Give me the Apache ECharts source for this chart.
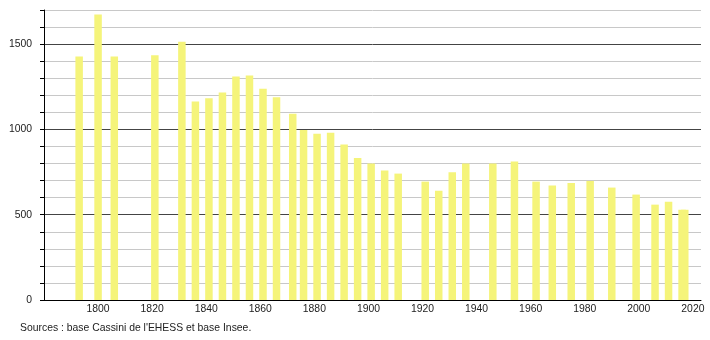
<!DOCTYPE html>
<html>
<head>
<meta charset="utf-8">
<script src="https://cdn.jsdelivr.net/npm/echarts@6/dist/echarts.min.js"></script>
<style>
html,body{margin:0;padding:0;background:#fff;}
#c{width:710px;height:340px;}
</style>
</head>
<body>
<div id="c"></div>
<script>
var years = [1793, 1800, 1806, 1821, 1831, 1836, 1841, 1846, 1851, 1856, 1861, 1866, 1872, 1876, 1881, 1886, 1891, 1896, 1901, 1906, 1911, 1921, 1926, 1931, 1936, 1946, 1954, 1962, 1968, 1975, 1982, 1990, 1999, 2006, 2011, 2016, 2017];
var population = [1428, 1673, 1428, 1435, 1514, 1163, 1182, 1216, 1310, 1316, 1239, 1188, 1092, 996, 975, 980, 912, 833, 800, 759, 741, 694, 641, 749, 800, 800, 812, 694, 671, 686, 698, 659, 618, 559, 576, 529, 529];
var yTickLabels = [0, 500, 1000, 1500];
var xTickLabels = [1800, 1820, 1840, 1860, 1880, 1900, 1920, 1940, 1960, 1980, 2000, 2020];
var sourceText = "Sources : base Cassini de l'EHESS et base Insee.";

var data = years.map(function (y, i) { return [y, population[i]]; });
var chart = echarts.init(document.getElementById('c'), null, {renderer: 'canvas'});
chart.setOption({
  animation: false,
  backgroundColor: '#ffffff',
  textStyle: {fontFamily: 'Liberation Sans, Arial, sans-serif'},
  grid: {left: 44, right: 9, top: 10, bottom: 40, containLabel: false},
  xAxis: {
    type: 'value', min: 1780, max: 2023, interval: 20,
    axisLine: {show: true, lineStyle: {color: '#000', width: 1}},
    axisTick: {show: false},
    splitLine: {show: false},
    axisLabel: {
      color: '#222', fontSize: 10.4, margin: 4, showMinLabel: false, showMaxLabel: false,
      formatter: function (v) { return xTickLabels.indexOf(v) >= 0 ? String(v) : ''; }
    }
  },
  yAxis: {
    type: 'value', min: 0, max: 1700, interval: 100,
    axisLine: {show: true, lineStyle: {color: '#000', width: 1}},
    axisTick: {show: true, inside: false, length: 4, lineStyle: {color: '#000'}},
    splitLine: {show: true, lineStyle: {color: ['#444444', '#c8c8c8', '#c8c8c8', '#c8c8c8', '#c8c8c8'], width: 1}},
    axisLabel: {
      color: '#222', fontSize: 10.4, margin: 12,
      formatter: function (v) { return yTickLabels.indexOf(v) >= 0 ? String(v) : ''; }
    }
  },
  series: [{
    type: 'bar',
    data: data,
    barWidth: 7.5,
    itemStyle: {color: '#f5f47a'}
  }],
  graphic: [{
    type: 'text', left: 20, top: 323,
    style: {text: sourceText, fontSize: 10.4, fill: '#222', fontFamily: 'Liberation Sans, Arial, sans-serif'}
  }]
});
</script>
</body>
</html>
